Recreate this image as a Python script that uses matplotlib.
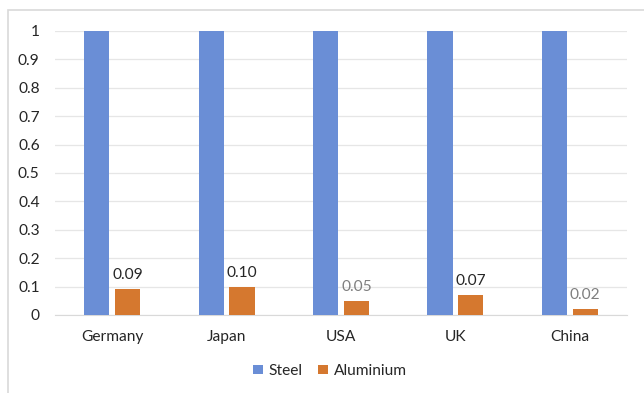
import matplotlib
matplotlib.use("Agg")
import matplotlib.pyplot as plt
from matplotlib.patches import Rectangle
import numpy as np

categories = ["Germany", "Japan", "USA", "UK", "China"]
steel = [1, 1, 1, 1, 1]
aluminium = [0.09, 0.10, 0.05, 0.07, 0.02]
alu_labels = ["0.09", "0.10", "0.05", "0.07", "0.02"]
label_colors = ["#262626", "#262626", "#7f7f7f", "#262626", "#7f7f7f"]
yticks = [0, 0.1, 0.2, 0.3, 0.4, 0.5, 0.6, 0.7, 0.8, 0.9, 1]
ytick_labels = ["0", "0.1", "0.2", "0.3", "0.4", "0.5", "0.6", "0.7", "0.8", "0.9", "1"]

plt.rcParams['font.family'] = ['Lato', 'DejaVu Sans']
FS = 11.2

fig = plt.figure(figsize=(6.44, 3.93), dpi=100)
ax = fig.add_axes([55/644, 1-315/393, 572/644, 284/393])

# outer frame
fig.patches.append(Rectangle((8/644, -0.05), 1.1, 1-10/393+0.05, transform=fig.transFigure,
                             fill=False, edgecolor="#d9d9d9", linewidth=1.2))

x = np.arange(len(categories))
w = 0.22
gap = 0.05
ax.bar(x - (w+gap)/2, steel, w, color="#6a8ed6", label="Steel", zorder=3)
ax.bar(x + (w+gap)/2, aluminium, w, color="#d5782f", label="Aluminium", zorder=3)

for xi, v, t, c in zip(x, aluminium, alu_labels, label_colors):
    ax.annotate(t, (xi + (w+gap)/2, v), xytext=(0, 5), textcoords="offset points",
                ha="center", va="bottom", fontsize=FS, color=c)

ax.set_xlim(-0.5, len(categories)-0.5)
ax.set_ylim(0, 1)
ax.set_yticks(yticks)
ax.set_yticklabels(ytick_labels, fontsize=FS, color="#262626")
ax.set_xticks(x)
ax.set_xticklabels(categories, fontsize=FS, color="#262626")
ax.tick_params(axis="y", length=0, pad=11)
ax.tick_params(axis="x", length=0, pad=11)
ax.yaxis.grid(True, color="#e6e6e6", linewidth=0.9, zorder=0)
for s in ["top", "right", "left"]:
    ax.spines[s].set_visible(False)
ax.spines["bottom"].set_color("#d9d9d9")

leg = ax.legend(loc="center", bbox_to_anchor=(330/644, 1-371/393), bbox_transform=fig.transFigure,
                ncol=2, frameon=False, fontsize=FS, handlelength=0.6, handleheight=0.6,
                handletextpad=0.4, columnspacing=1.0)
for t in leg.get_texts():
    t.set_color("#262626")

fig.savefig("out.png", dpi=100)
